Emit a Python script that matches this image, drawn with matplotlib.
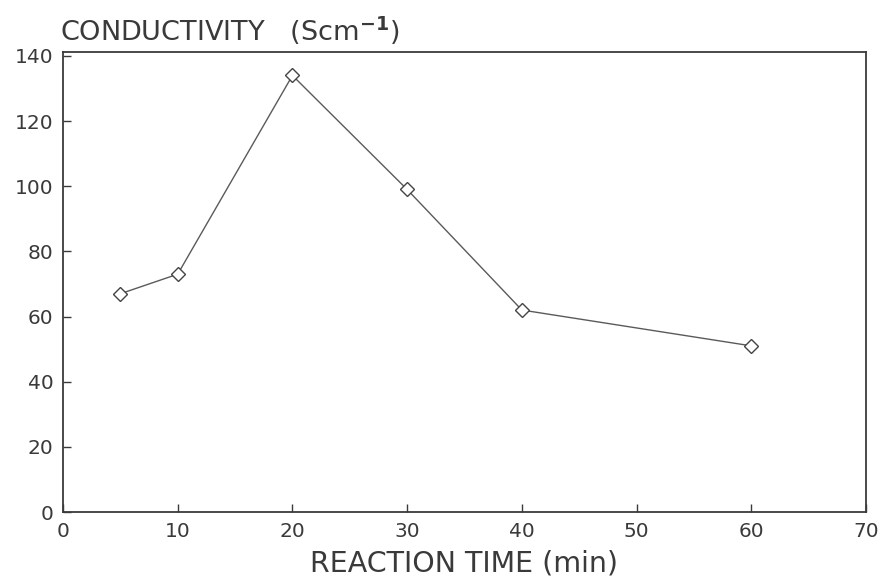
import matplotlib
matplotlib.use("Agg")
import matplotlib.pyplot as plt

reaction_time = [5, 10, 20, 30, 40, 60]
conductivity = [67, 73, 134, 99, 62, 51]
x_ticks = [0, 10, 20, 30, 40, 50, 60, 70]
y_ticks = [0, 20, 40, 60, 80, 100, 120, 140]

ink = "#3a3a3a"
plt.rcParams['font.family'] = ['DejaVu Sans']

fig = plt.figure(figsize=(8.85, 5.79), dpi=100)
ax = fig.add_axes([0.0712, 0.1157, 0.9073, 0.7945])

ax.plot(reaction_time, conductivity, color="#5a5a5a", lw=1.0,
        marker="D", markersize=7, markerfacecolor="white",
        markeredgecolor="#444444", markeredgewidth=1.0)

ax.set_xlim(0, 70)
ax.set_ylim(0, 141.2)
ax.set_xticks(x_ticks)
ax.set_yticks(y_ticks)
ax.tick_params(direction="in", length=6, width=1, colors=ink,
               labelsize=14.5, top=False, right=False, pad=7)
for s in ax.spines.values():
    s.set_color(ink)
    s.set_linewidth(1.3)

ax.set_xlabel("REACTION TIME (min)", fontsize=20.5, color=ink, labelpad=6)
fig.text(0.068, 0.947, r"CONDUCTIVITY   (Scm$^{\mathbf{-1}}$)", fontsize=19.5,
         color=ink, ha="left", va="center")

fig.savefig("out.png", dpi=100)
